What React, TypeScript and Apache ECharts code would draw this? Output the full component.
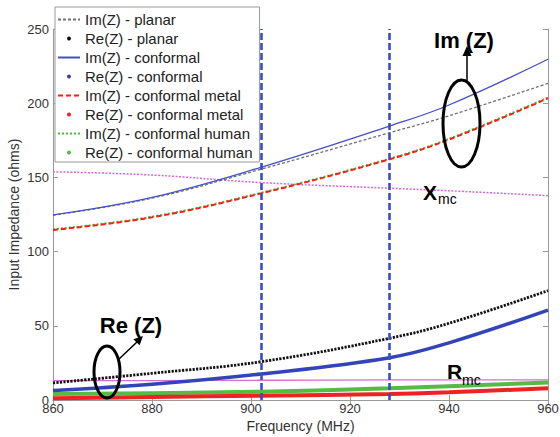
import { useEffect, useRef } from "react";
import * as echarts from "echarts";

// Frequency samples (MHz) at which values were read
const frequencies = [860, 880, 902, 928, 940, 960];

// Imaginary parts (ohms)
const imPlanar = [124.5, 136, 155.5, 180.1, 191.5, 213.4];
const imConformal = [124.7, 136.5, 156.8, 184.6, 198.8, 229.6];
const imMetal = [114.6, 123.1, 139.2, 162.2, 175.5, 203.3];
const imHuman = [115, 123.5, 139.6, 162.6, 176, 203.8];
const xmc = [153.8, 151.6, 146.5, 142.7, 141, 137.7];

// Real parts (ohms)
const rePlanar = [11.5, 18, 25.8, 41.6, 51.7, 73.7];
const reConformal = [6.4, 10.6, 17.5, 28.5, 38.5, 60.6];
const reMetal = [1.2, 2, 2.9, 4, 5.2, 7.9];
const reHuman = [4, 4.6, 5.6, 7.9, 9.3, 11.8];
const rmc = [13, 13.1, 13.3, 13.5, 13.5, 13.5];

// ISM band edges (MHz)
const bandEdges = [902, 928];

// Axis ranges
const xRange = [860, 960];
const xStep = 20;
const yRange = [0, 250];
const yStep = 50;

const legendNames = [
  "Im(Z) - planar",
  "Re(Z) - planar",
  "Im(Z) - conformal",
  "Re(Z) - conformal",
  "Im(Z) - conformal metal",
  "Re(Z) - conformal metal",
  "Im(Z) - conformal human",
  "Re(Z) - conformal human",
];

const FONT = "Liberation Sans";

export default function App() {
  const ref = useRef<HTMLDivElement>(null);

  useEffect(() => {
    const chart = echarts.init(ref.current!, null, { renderer: "svg" });
    const pairs = (vals: number[]) => frequencies.map((f, i) => [f, vals[i]]);
    const mk = (
      name: string,
      vals: number[],
      color: string,
      width: number,
      type: any,
      extra: any = {}
    ) => ({
      name,
      type: "line",
      data: pairs(vals),
      smooth: 0.4,
      symbol: "none",
      showSymbol: false,
      silent: true,
      emphasis: { disabled: true },
      itemStyle: { color },
      lineStyle: { color, width, type, cap: "butt" },
      ...extra,
    });

    const axisCommon = {
      type: "value",
      axisLine: { show: true, lineStyle: { color: "#999", width: 1 } },
      axisTick: { show: true, inside: true, length: 5, lineStyle: { color: "#999" } },
      splitLine: { show: false },
    };

    const black = "#000";

    chart.setOption({
      animation: false,
      backgroundColor: "#fff",
      grid: { left: 53, right: 12, top: 29, bottom: 37, containLabel: false, outerBoundsMode: "none" },
      legend: {
        show: true,
        data: legendNames.map((n) =>
          n.startsWith("Re") ? { name: n, icon: "circle" } : { name: n, itemStyle: { opacity: 0 } }
        ),
        left: 55,
        top: 7,
        orient: "vertical",
        itemWidth: 22,
        itemHeight: 4,
        itemGap: 4,
        padding: [5, 7, 2, 2],
        backgroundColor: "#fff",
        borderColor: "#999",
        borderWidth: 1,
        borderRadius: 0,
        selectedMode: false,
        textStyle: { fontFamily: FONT, fontSize: 15, color: "#222" },
        z: 6,
      },
      xAxis: [
        {
          ...axisCommon,
          position: "bottom",
          min: xRange[0],
          max: xRange[1],
          interval: xStep,
          axisLabel: { fontFamily: FONT, fontSize: 13, color: "#333", margin: 2 },
          name: "Frequency (MHz)",
          nameLocation: "middle",
          nameGap: 19,
          nameMoveOverlap: false,
          nameTextStyle: { fontFamily: FONT, fontSize: 14, color: "#333" },
        },
        {
          ...axisCommon,
          position: "top",
          min: xRange[0],
          max: xRange[1],
          interval: xStep,
          axisLabel: { show: false },
        },
      ],
      yAxis: [
        {
          ...axisCommon,
          position: "left",
          min: yRange[0],
          max: yRange[1],
          interval: yStep,
          axisLabel: { fontFamily: FONT, fontSize: 13, color: "#333", margin: 4 },
          name: "Input Impedance (ohms)",
          nameLocation: "middle",
          nameGap: 32,
          nameMoveOverlap: false,
          nameTextStyle: { fontFamily: FONT, fontSize: 14, color: "#333" },
        },
        {
          ...axisCommon,
          position: "right",
          min: yRange[0],
          max: yRange[1],
          interval: yStep,
          axisLabel: { show: false },
        },
      ],
      series: [
        mk("Rmc", rmc, "#d070d0", 1.3, "solid"),
        mk("Xmc", xmc, "#d468d4", 1.5, [2, 1.5]),
        mk("Re(Z) - conformal human", reHuman, "#55bb44", 4, "solid"),
        mk("Re(Z) - conformal metal", reMetal, "#ee2222", 4, "solid"),
        mk("Re(Z) - conformal", reConformal, "#3344b8", 3.5, "solid"),
        mk("Re(Z) - planar", rePlanar, "#111111", 2.8, [2.2, 1.3]),
        mk("Im(Z) - conformal human", imHuman, "#4cbb3c", 2, [2, 2]),
        mk("Im(Z) - conformal metal", imMetal, "#ff1a1a", 2, [5, 3]),
        mk("Im(Z) - planar", imPlanar, "#707070", 1.3, [3, 2]),
        mk("Im(Z) - conformal", imConformal, "#4450c4", 1.3, "solid", {
          markLine: {
            silent: true,
            symbol: ["none", "none"],
            label: { show: false },
            emphasis: { disabled: true },
            lineStyle: { color: "#3a4cc8", width: 2.6, type: [7, 3] },
            data: bandEdges.map((v) => ({ xAxis: v })),
          },
        }),
      ],
      graphic: [
        // Im (Z) annotation
        {
          type: "ellipse",
          z: 20,
          shape: { cx: 461.5, cy: 123.5, rx: 18.5, ry: 43.5 },
          style: { fill: "none", stroke: black, lineWidth: 3 },
        },
        {
          type: "line",
          z: 20,
          shape: { x1: 467, y1: 82, x2: 467, y2: 54 },
          style: { stroke: black, lineWidth: 1.5 },
        },
        {
          type: "polygon",
          z: 20,
          shape: { points: [[467, 46], [462.5, 56], [471.5, 56]] },
          style: { fill: black },
        },
        {
          type: "text",
          z: 20,
          x: 464,
          y: 40,
          style: {
            text: "Im (Z)",
            fontFamily: FONT,
            fontWeight: "bold",
            fontSize: 22,
            fill: black,
            align: "center",
            verticalAlign: "middle",
          },
        },
        // Re (Z) annotation
        {
          type: "ellipse",
          z: 20,
          shape: { cx: 107, cy: 372, rx: 13, ry: 26 },
          style: { fill: "none", stroke: black, lineWidth: 3 },
        },
        {
          type: "line",
          z: 20,
          shape: { x1: 118, y1: 360, x2: 137.5, y2: 341.5 },
          style: { stroke: black, lineWidth: 1.5 },
        },
        {
          type: "polygon",
          z: 20,
          shape: { points: [[143, 336], [139.6, 345.3], [133.4, 339.3]] },
          style: { fill: black },
        },
        {
          type: "text",
          z: 20,
          x: 131,
          y: 325,
          style: {
            text: "Re (Z)",
            fontFamily: FONT,
            fontWeight: "bold",
            fontSize: 22,
            fill: black,
            align: "center",
            verticalAlign: "middle",
          },
        },
        // Xmc label
        {
          type: "text",
          z: 20,
          x: 423,
          y: 192,
          style: { text: "X", fontFamily: FONT, fontWeight: "bold", fontSize: 21, fill: black, align: "left", verticalAlign: "middle" },
        },
        {
          type: "text",
          z: 20,
          x: 438,
          y: 199,
          style: { text: "mc", fontFamily: FONT, fontSize: 14, fill: black, align: "left", verticalAlign: "middle" },
        },
        // Rmc label
        {
          type: "text",
          z: 20,
          x: 447,
          y: 371,
          style: { text: "R", fontFamily: FONT, fontWeight: "bold", fontSize: 21, fill: black, align: "left", verticalAlign: "middle" },
        },
        {
          type: "text",
          z: 20,
          x: 462,
          y: 380,
          style: { text: "mc", fontFamily: FONT, fontSize: 14, fill: black, align: "left", verticalAlign: "middle" },
        },
      ],
    });

    return () => chart.dispose();
  }, []);

  return (
    <div
      ref={ref}
      style={{ position: "fixed", left: 0, top: 0, width: 560, height: 437, background: "#fff" }}
    />
  );
}
